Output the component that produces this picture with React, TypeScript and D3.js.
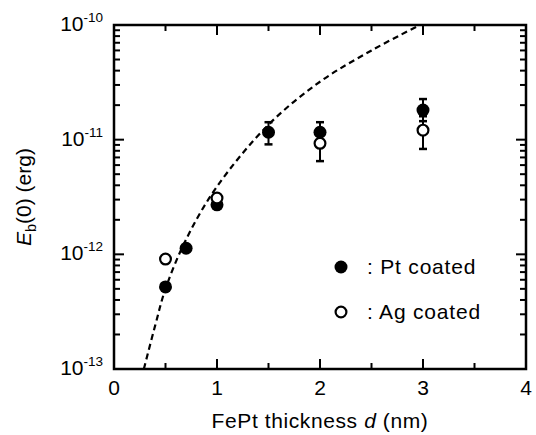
import React from "react";
import * as d3 from "d3";

const ptD = [0.5, 0.7, 1.0, 1.5, 2.0, 3.0];
const ptE = [5.2e-13, 1.13e-12, 2.7e-12, 1.16e-11, 1.16e-11, 1.81e-11];
const ptLo = [null, null, null, 9.1e-12, 9.5e-12, 1.45e-11];
const ptHi = [null, null, null, 1.42e-11, 1.42e-11, 2.26e-11];

const agD = [0.5, 1.0, 2.0, 3.0];
const agE = [9.1e-13, 3.1e-12, 9.3e-12, 1.21e-11];
const agLo = [null, null, 6.5e-12, 8.3e-12];
const agHi = [null, null, 1.25e-11, 1.6e-11];

const fitD = [0.29, 0.4, 0.5, 0.7, 1.0, 1.5, 2.0, 2.5, 2.97];
const fitE = [1e-13, 2.4e-13, 5.0e-13, 1.35e-12, 3.9e-12, 1.35e-11, 3.2e-11, 6.0e-11, 1e-10];

const xTicks = [0, 1, 2, 3, 4];
const xMinorTicks = [0.5, 1.5, 2.5, 3.5];
const yExponents = [-10, -11, -12, -13];

const W = 536, H = 435;
const L = 114, R = 526, T = 25, B = 369;
const FONT = "'Liberation Sans', Arial, Helvetica, sans-serif";

export default function App() {
  const x = d3.scaleLinear().domain([0, 4]).range([L, R]);
  const y = d3.scaleLog().domain([1e-13, 1e-10]).range([B, T]);

  const yMinor: number[] = [];
  [-13, -12, -11].forEach((e) => {
    for (let k = 2; k <= 9; k++) yMinor.push(k * Math.pow(10, e));
  });

  const fitPts = fitD.map((d, i) => [d, fitE[i]] as [number, number]);
  const line = d3
    .line<[number, number]>()
    .x((p) => x(p[0]))
    .y((p) => y(p[1]))
    .curve(d3.curveCatmullRom.alpha(0.5));

  const errBar = (d: number, lo: number | null, hi: number | null, key: string) => {
    if (lo == null || hi == null) return null;
    const cx = x(d);
    return (
      <g key={key} stroke="#000" strokeWidth={2}>
        <line x1={cx} x2={cx} y1={y(lo)} y2={y(hi)} />
        <line x1={cx - 4} x2={cx + 4} y1={y(lo)} y2={y(lo)} strokeWidth={2.5} />
        <line x1={cx - 4} x2={cx + 4} y1={y(hi)} y2={y(hi)} strokeWidth={2.5} />
      </g>
    );
  };

  const majorLen = 10, minorLen = 6;

  return (
    <svg width={W} height={H} style={{ position: "absolute", left: 0, top: 0, background: "#fff" }} fontFamily={FONT}>
      <rect x={0} y={0} width={W} height={H} fill="#fff" />
      <defs>
        <clipPath id="plotClip">
          <rect x={L} y={T} width={R - L} height={B - T} />
        </clipPath>
      </defs>
      <path
        d={line(fitPts) || ""}
        fill="none"
        stroke="#000"
        strokeWidth={2.2}
        strokeDasharray="6,4"
        clipPath="url(#plotClip)"
      />

      {ptD.map((d, i) => errBar(d, ptLo[i], ptHi[i], "pe" + i))}
      {agD.map((d, i) => errBar(d, agLo[i], agHi[i], "ae" + i))}

      {ptD.map((d, i) => (
        <circle key={"p" + i} cx={x(d)} cy={y(ptE[i])} r={6.5} fill="#000" />
      ))}
      {agD.map((d, i) => (
        <circle key={"a" + i} cx={x(d)} cy={y(agE[i])} r={5.4} fill="#fff" stroke="#000" strokeWidth={2.2} />
      ))}

      <g stroke="#000" strokeWidth={2}>
        {xTicks.map((t) => (
          <g key={"xt" + t}>
            <line x1={x(t)} x2={x(t)} y1={B} y2={B - majorLen} />
            <line x1={x(t)} x2={x(t)} y1={T} y2={T + majorLen} />
          </g>
        ))}
        {xMinorTicks.map((t) => (
          <g key={"xm" + t}>
            <line x1={x(t)} x2={x(t)} y1={B} y2={B - minorLen} />
            <line x1={x(t)} x2={x(t)} y1={T} y2={T + minorLen} />
          </g>
        ))}
        {yExponents.map((e) => (
          <g key={"yt" + e}>
            <line x1={L} x2={L + majorLen} y1={y(Math.pow(10, e))} y2={y(Math.pow(10, e))} />
            <line x1={R} x2={R - majorLen} y1={y(Math.pow(10, e))} y2={y(Math.pow(10, e))} />
          </g>
        ))}
        {yMinor.map((v, i) => (
          <g key={"ym" + i}>
            <line x1={L} x2={L + minorLen} y1={y(v)} y2={y(v)} />
            <line x1={R} x2={R - minorLen} y1={y(v)} y2={y(v)} />
          </g>
        ))}
      </g>

      <rect x={L} y={T} width={R - L} height={B - T} fill="none" stroke="#000" strokeWidth={2.5} />

      {xTicks.map((t) => (
        <text key={"xl" + t} x={x(t)} y={395} fontSize={21} textAnchor="middle" fill="#000">
          {t}
        </text>
      ))}
      {yExponents.map((e) => (
        <text key={"yl" + e} x={103} y={y(Math.pow(10, e)) + 6} fontSize={21} textAnchor="end" fill="#000">
          10
          <tspan fontSize={13.5} dy={-9}>
            {e}
          </tspan>
        </text>
      ))}

      <text x={320} y={428} fontSize={21} letterSpacing={0.6} textAnchor="middle" fill="#000">
        FePt thickness <tspan fontStyle="italic">d</tspan> (nm)
      </text>
      <text transform={`translate(31, ${(T + B) / 2}) rotate(-90)`} fontSize={21} textAnchor="middle" fill="#000">
        <tspan fontStyle="italic">E</tspan>
        <tspan fontSize={14.5} dy={5}>b</tspan>
        <tspan dy={-5}>(0) (erg)</tspan>
      </text>

      <circle cx={341} cy={267} r={6.5} fill="#000" />
      <text x={367} y={274} fontSize={21} letterSpacing={0.8} fill="#000">: Pt coated</text>
      <circle cx={341} cy={312} r={5.4} fill="#fff" stroke="#000" strokeWidth={2.2} />
      <text x={367} y={319} fontSize={21} letterSpacing={0.8} fill="#000">: Ag coated</text>
    </svg>
  );
}
